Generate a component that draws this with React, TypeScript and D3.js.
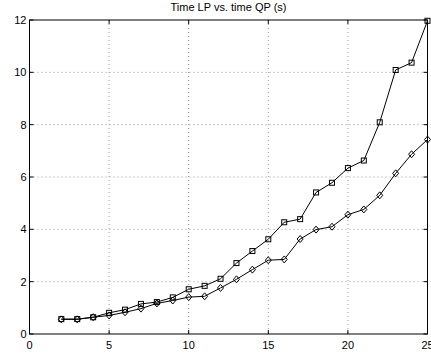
import React from "react";
import * as d3 from "d3";

const xs = [2, 3, 4, 5, 6, 7, 8, 9, 10, 11, 12, 13, 14, 15, 16, 17, 18, 19, 20, 21, 22, 23, 24, 25];
const lpTimes = [0.57, 0.57, 0.64, 0.81, 0.93, 1.15, 1.22, 1.4, 1.71, 1.84, 2.11, 2.71, 3.17, 3.62, 4.27, 4.39, 5.41, 5.78, 6.34, 6.63, 8.09, 10.09, 10.37, 11.97];
const qpTimes = [0.56, 0.56, 0.64, 0.71, 0.83, 0.97, 1.17, 1.28, 1.41, 1.44, 1.76, 2.09, 2.46, 2.82, 2.85, 3.63, 3.99, 4.1, 4.56, 4.76, 5.3, 6.14, 6.87, 7.43];
const xTicks = [0, 5, 10, 15, 20, 25];
const yTicks = [0, 2, 4, 6, 8, 10, 12];
const title = "Time LP vs. time QP (s)";

const W = 431;
const H = 355;
const L = 29.5, R = 427.5, T = 20, B = 334;

export default function App() {
  const x = d3.scaleLinear().domain([0, 25]).range([L, R]);
  const y = d3.scaleLinear().domain([0, 12]).range([B, T]);
  const line = d3.line<number>().x((_, i) => x(xs[i])).y((d) => y(d));
  const font = "Liberation Sans, Arial, sans-serif";
  const tk = 4;
  return (
    <svg width={W} height={H} style={{ position: "absolute", left: 0, top: 0 }}>
      <rect x={0} y={0} width={W} height={H} fill="#fff" />
      {xTicks.slice(1, -1).map((t) => (
        <line key={"gx" + t} x1={x(t)} x2={x(t)} y1={T} y2={B} stroke="#999" strokeWidth={1} strokeDasharray="1,3" />
      ))}
      {yTicks.slice(1, -1).map((t) => (
        <line key={"gy" + t} x1={L} x2={R} y1={y(t)} y2={y(t)} stroke="#999" strokeWidth={1} strokeDasharray="1,3" />
      ))}
      {xTicks.map((t) => (
        <g key={"tx" + t}>
          <line x1={x(t)} x2={x(t)} y1={B} y2={B - tk} stroke="#000" />
          <line x1={x(t)} x2={x(t)} y1={T} y2={T + tk} stroke="#000" />
          <text x={x(t)} y={B + 15} fontSize={11} fontFamily={font} textAnchor="middle">{t}</text>
        </g>
      ))}
      {yTicks.map((t) => (
        <g key={"ty" + t}>
          <line x1={L} x2={L + tk} y1={y(t)} y2={y(t)} stroke="#000" />
          <line x1={R} x2={R - tk} y1={y(t)} y2={y(t)} stroke="#000" />
          <text x={L - 3} y={y(t) + 4} fontSize={11} fontFamily={font} textAnchor="end">{t}</text>
        </g>
      ))}
      <rect x={L} y={T} width={R - L} height={B - T} fill="none" stroke="#000" strokeWidth={1} />
      <path d={line(lpTimes) || ""} fill="none" stroke="#000" strokeWidth={1} />
      <path d={line(qpTimes) || ""} fill="none" stroke="#000" strokeWidth={1} />
      {lpTimes.map((v, i) => (
        <rect key={"s" + i} x={x(xs[i]) - 2.5} y={y(v) - 2.5} width={5} height={5} fill="none" stroke="#000" strokeWidth={1} />
      ))}
      {qpTimes.map((v, i) => {
        const cx = x(xs[i]), cy = y(v);
        return (
          <path key={"d" + i} d={`M${cx},${cy - 3.5}L${cx + 3},${cy}L${cx},${cy + 3.5}L${cx - 3},${cy}Z`} fill="none" stroke="#000" strokeWidth={1} />
        );
      })}
      <text x={(L + R) / 2} y={11} fontSize={11} fontFamily={font} textAnchor="middle">{title}</text>
    </svg>
  );
}
